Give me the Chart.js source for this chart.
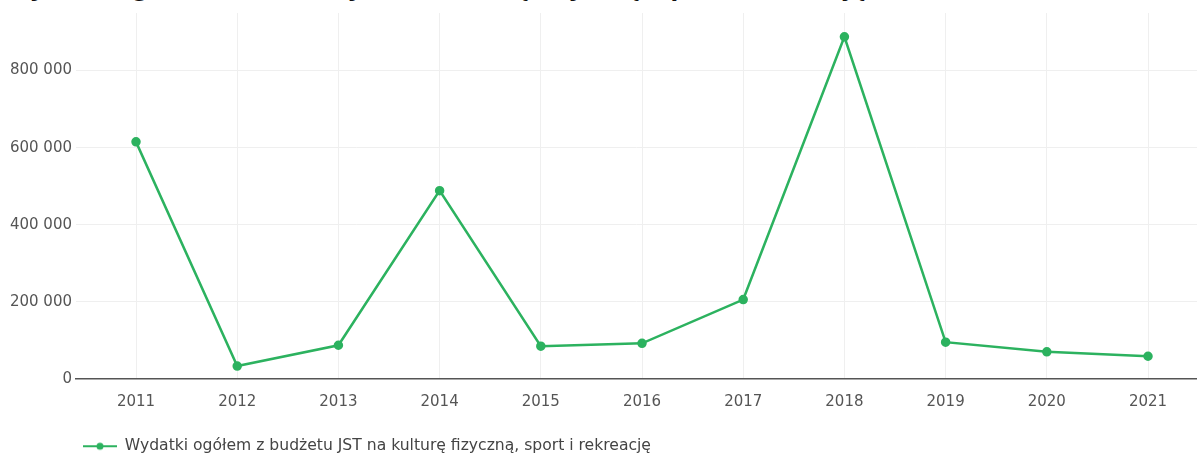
<!DOCTYPE html>
<html>
<head>
<meta charset="utf-8">
<script src="https://cdn.jsdelivr.net/npm/chart.js@4"></script>
<style>
  html, body { margin:0; padding:0; background:#fff; overflow:hidden; }
  #wrap { position:relative; width:1197px; height:455px; }
  #title {
    position:absolute; left:7px; top:-23px; white-space:nowrap;
    font:italic bold 22.5px/22px "DejaVu Sans", sans-serif; color:#111;
  }
  #chart { position:absolute; left:0; top:0; }
</style>
</head>
<body>
<div id="wrap">
  <div id="title">Wydatki ogółem z budżetu JST na kulturę fizyczną, sport i rekreację</div>
  <canvas id="chart" width="1197" height="455"></canvas>
</div>
<script>
// ---- dane -----------------------------------------------------------------
const YEARS = [2011, 2012, 2013, 2014, 2015, 2016, 2017, 2018, 2019, 2020, 2021];
const WYDATKI = [615000, 33500, 87500, 488500, 85000, 92500, 206000, 887500, 95500, 70500, 59000];
const SERIES_LABEL = "Wydatki ogółem z budżetu JST na kulturę fizyczną, sport i rekreację";
const Y_TICKS = [0, 200000, 400000, 600000, 800000];

const GREEN = "#2cb25f";
const TXT = "#555";

// separator tysięcy: spacja
const fmt = v => String(v).replace(/\B(?=(\d{3})+(?!\d))/g, " ");

// symbol legendy: linia + kropka (z pustym marginesem po lewej)
function legendIcon(){
  const c = document.createElement("canvas");
  c.width = 107; c.height = 10;
  const g = c.getContext("2d");
  g.strokeStyle = GREEN; g.lineWidth = 2;
  g.beginPath(); g.moveTo(73, 5); g.lineTo(107, 5); g.stroke();
  g.fillStyle = GREEN;
  g.beginPath(); g.arc(90, 5, 3.5, 0, Math.PI * 2); g.fill();
  return c;
}
const ICON = legendIcon();

const points = YEARS.map((y, i) => ({ x: y, y: WYDATKI[i] }));

new Chart(document.getElementById("chart"), {
  type: "line",
  data: {
    datasets: [{
      label: SERIES_LABEL,
      data: points,
      borderColor: GREEN,
      backgroundColor: GREEN,
      borderWidth: 2.5,
      pointRadius: 3.5,
      pointHoverRadius: 4,
      tension: 0,
      clip: false
    }]
  },
  options: {
    responsive: false,
    animation: false,
    layout: { autoPadding: false, padding: { top: 10, left: 0, right: 0, bottom: -9 } },
    plugins: {
      tooltip: { enabled: false },
      legend: {
        position: "bottom",
        align: "start",
        labels: {
          usePointStyle: true,
          pointStyleWidth: 107,
          padding: 10,
          color: "#444",
          font: { family: "DejaVu Sans", size: 15.6 },
          generateLabels: chart => chart.data.datasets.map((ds, i) => ({
            text: ds.label, pointStyle: ICON, fillStyle: GREEN,
            strokeStyle: GREEN, lineWidth: 0, datasetIndex: i, fontColor: "#444"
          }))
        }
      }
    },
    scales: {
      x: {
        type: "linear",
        min: 2010.407,
        max: 2021.484,
        grid: { color: "#efefef", drawTicks: false, lineWidth: 1 },
        border: { display: true, color: "#555", width: 1.5 },
        ticks: {
          stepSize: 1, includeBounds: false, padding: 14, color: TXT,
          font: { family: "DejaVu Sans", size: 15 },
          callback: v => String(v)
        },
        afterFit: s => {
          s.height = 455 + 9 - s.chart.legend.height - 379;
          s.paddingLeft = 0; s.paddingRight = 0;
        }
      },
      y: {
        min: 0,
        max: 949200,
        grid: { color: v => v.tick && v.tick.value === 0 ? "rgba(0,0,0,0)" : "#efefef", drawTicks: false },
        border: { display: false },
        afterBuildTicks: s => { s.ticks = Y_TICKS.map(v => ({ value: v })); },
        ticks: {
          padding: 4, color: TXT,
          font: { family: "DejaVu Sans", size: 15 },
          callback: v => fmt(v)
        },
        afterFit: s => { s.width = 76; }
      }
    }
  }
});
</script>
</body>
</html>
